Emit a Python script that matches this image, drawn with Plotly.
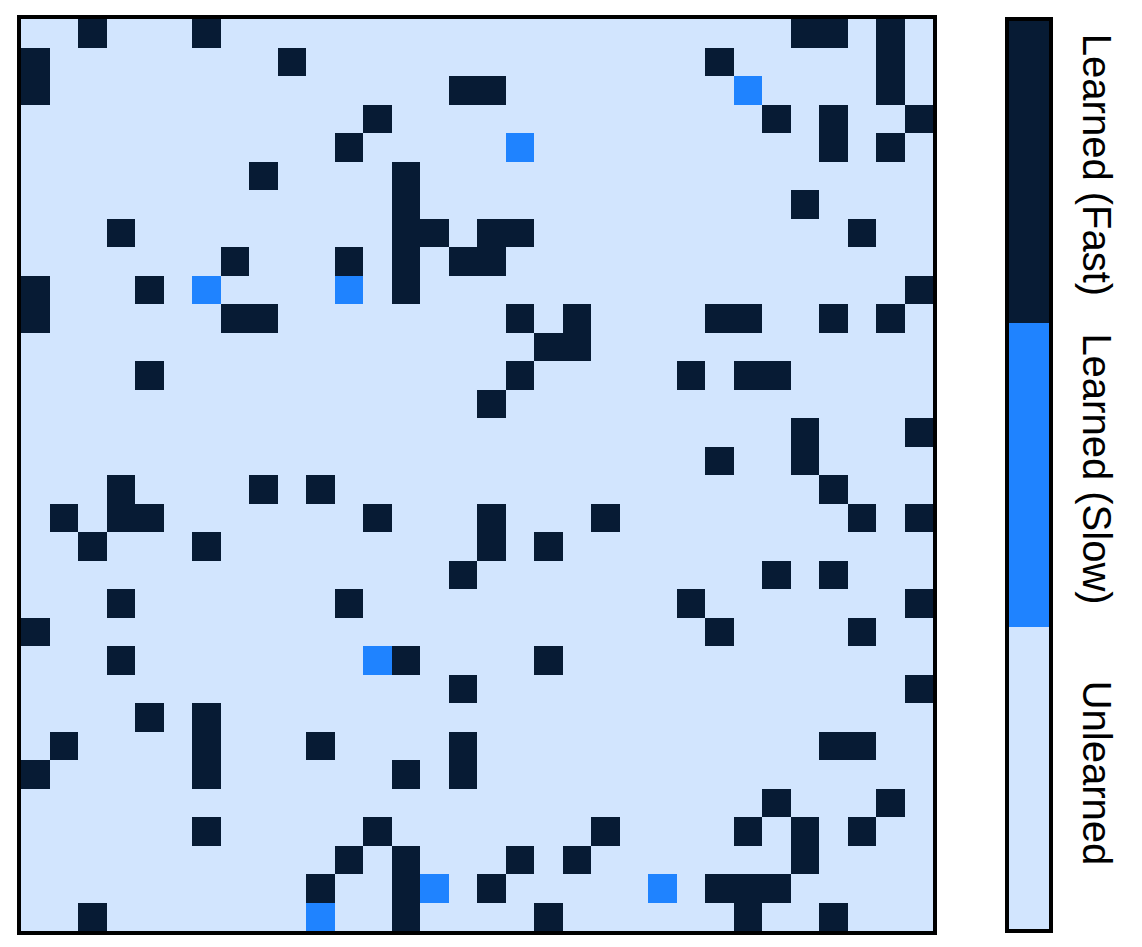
import plotly.graph_objects as go

N_ROWS = 32
N_COLS = 32

# Columns of "Learned (Fast)" cells, per row (row 0 at top)
fast_cols = [
    [2, 6, 27, 28, 30],
    [0, 9, 24, 30],
    [0, 15, 16, 30],
    [12, 26, 28, 31],
    [11, 28, 30],
    [8, 13],
    [13, 27],
    [3, 13, 14, 16, 17, 29],
    [7, 11, 13, 15, 16],
    [0, 4, 13, 31],
    [0, 7, 8, 17, 19, 24, 25, 28, 30],
    [18, 19],
    [4, 17, 23, 25, 26],
    [16],
    [27, 31],
    [24, 27],
    [3, 8, 10, 28],
    [1, 3, 4, 12, 16, 20, 29, 31],
    [2, 6, 16, 18],
    [15, 26, 28],
    [3, 11, 23, 31],
    [0, 24, 29],
    [3, 13, 18],
    [15, 31],
    [4, 6],
    [1, 6, 10, 15, 28, 29],
    [0, 6, 13, 15],
    [26, 30],
    [6, 12, 20, 25, 27, 29],
    [11, 13, 17, 19, 27],
    [10, 13, 16, 24, 25, 26],
    [2, 13, 18, 25, 28],
]

# (row, col) of "Learned (Slow)" cells
slow_rows = [2, 4, 9, 9, 22, 30, 30, 31]
slow_cols = [25, 17, 6, 11, 12, 14, 22, 10]

state_labels = ["Unlearned", "Learned (Slow)", "Learned (Fast)"]
state_values = [0, 1, 2]
state_colors = ["#d2e5fe", "#1f83ff", "#071b34"]

z = [[state_values[0]] * N_COLS for _ in range(N_ROWS)]
for r, cols in enumerate(fast_cols):
    for c in cols:
        z[r][c] = state_values[2]
for r, c in zip(slow_rows, slow_cols):
    z[r][c] = state_values[1]

colorscale = [
    [0.0, state_colors[0]], [1 / 3, state_colors[0]],
    [1 / 3, state_colors[1]], [2 / 3, state_colors[1]],
    [2 / 3, state_colors[2]], [1.0, state_colors[2]],
]

fig = go.Figure(go.Heatmap(
    z=z,
    x=list(range(N_COLS)),
    y=list(range(N_ROWS)),
    zmin=0, zmax=2,
    colorscale=colorscale,
    xgap=0, ygap=0,
    colorbar=dict(
        tickvals=[1 / 3, 1, 5 / 3],
        ticktext=state_labels,
        tickangle=90,
        tickfont=dict(family="Liberation Sans, Arial, sans-serif", size=40, color="black"),
        ticks="outside",
        ticklen=14,
        tickcolor="rgba(0,0,0,0)",
        thickness=44,
        thicknessmode="pixels",
        len=1, lenmode="fraction",
        y=0.5, yanchor="middle", ypad=0,
        x=1.0815, xanchor="left", xpad=0,
        outlinewidth=4, outlinecolor="black",
    ),
))

fig.update_xaxes(range=[-0.5, N_COLS - 0.5], showgrid=False, zeroline=False,
                 showticklabels=False, ticks="", showline=True, linewidth=4,
                 linecolor="black", mirror=True)
fig.update_yaxes(range=[N_ROWS - 0.5, -0.5], showgrid=False, zeroline=False,
                 showticklabels=False, ticks="", showline=True, linewidth=4,
                 linecolor="black", mirror=True)

fig.update_layout(
    width=1142, height=947,
    margin=dict(l=21, r=209, t=19, b=16),
    paper_bgcolor="white", plot_bgcolor="white",
    font=dict(family="Liberation Sans, Arial, sans-serif", color="black"),
)

fig.write_html("out.html")
